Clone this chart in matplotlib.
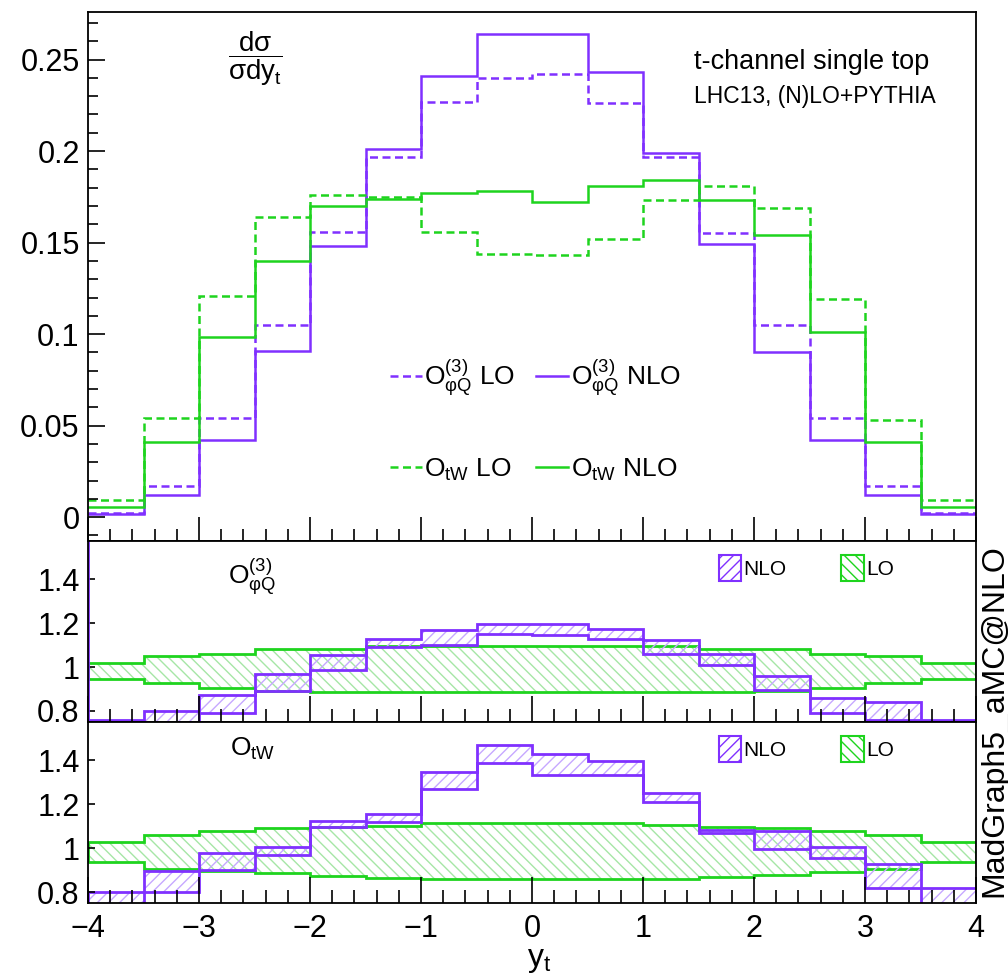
import numpy as np
import matplotlib
matplotlib.use('Agg')
import matplotlib.pyplot as plt
from matplotlib.lines import Line2D
from matplotlib.patches import Patch

plt.rcParams['font.family'] = ['Liberation Sans', 'DejaVu Sans']
plt.rcParams['mathtext.fontset'] = 'custom'
plt.rcParams['mathtext.rm'] = 'Liberation Sans'
plt.rcParams['mathtext.it'] = 'Liberation Sans:italic'
plt.rcParams['mathtext.bf'] = 'Liberation Sans:bold'
plt.rcParams['hatch.linewidth'] = 1.0

# bin edges in y_t
y_edges = [-4, -3.5, -3, -2.5, -2, -1.5, -1, -0.5, 0, 0.5, 1, 1.5, 2, 2.5, 3, 3.5, 4]

# normalised distributions (top panel)
phiQ_lo = [0.0025, 0.017, 0.054, 0.105, 0.156, 0.197, 0.227, 0.240, 0.242, 0.226,
           0.197, 0.155, 0.105, 0.054, 0.017, 0.0025]
phiQ_nlo = [0.0015, 0.012, 0.042, 0.091, 0.148, 0.201, 0.241, 0.264, 0.264, 0.243,
            0.199, 0.149, 0.090, 0.042, 0.012, 0.0015]
tw_lo = [0.0095, 0.054, 0.121, 0.164, 0.176, 0.175, 0.156, 0.144, 0.143, 0.152,
         0.173, 0.181, 0.169, 0.119, 0.053, 0.0095]
tw_nlo = [0.0056, 0.041, 0.0985, 0.140, 0.170, 0.174, 0.177, 0.178, 0.172, 0.181,
          0.184, 0.173, 0.154, 0.101, 0.041, 0.0056]

# scale bands, O_phiQ ratio panel
phiQ_lo_up = [1.018, 1.050, 1.061, 1.084, 1.084, 1.094, 1.094, 1.094, 1.094, 1.094,
              1.094, 1.084, 1.084, 1.061, 1.050, 1.018]
phiQ_lo_dn = [0.947, 0.927, 0.906, 0.890, 0.886, 0.886, 0.886, 0.886, 0.886, 0.886,
              0.886, 0.886, 0.891, 0.906, 0.927, 0.947]
phiQ_nlo_up = [0.760, 0.800, 0.874, 0.967, 1.053, 1.126, 1.167, 1.198, 1.198, 1.175,
               1.125, 1.061, 0.958, 0.860, 0.840, 0.761]
phiQ_nlo_dn = [0.70, 0.70, 0.790, 0.890, 0.989, 1.091, 1.102, 1.152, 1.145, 1.126,
               1.061, 1.008, 0.894, 0.792, 0.760, 0.70]

# scale bands, O_tW ratio panel
tw_lo_up = [1.030, 1.061, 1.080, 1.091, 1.094, 1.103, 1.114, 1.114, 1.114, 1.114,
            1.106, 1.098, 1.091, 1.080, 1.061, 1.027]
tw_lo_dn = [0.936, 0.906, 0.897, 0.886, 0.875, 0.863, 0.860, 0.860, 0.860, 0.860,
            0.860, 0.868, 0.878, 0.891, 0.906, 0.936]
tw_nlo_up = [0.798, 0.894, 0.977, 1.007, 1.124, 1.155, 1.346, 1.471, 1.430, 1.395,
             1.250, 1.083, 1.079, 1.007, 0.927, 0.820]
tw_nlo_dn = [0.70, 0.798, 0.901, 0.969, 1.094, 1.121, 1.269, 1.390, 1.334, 1.334,
             1.208, 1.071, 0.997, 0.957, 0.818, 0.70]

purple = '#8030ff'
green = '#1ed41e'
purple_h = '#c6a8ff'
green_h = '#a6e6a6'
dash = (0, (3.2, 1.8))
lab_phiQ = r'$\mathrm{O^{(3)}_{\varphi Q}}$'
lab_tw = r'$\mathrm{O_{tW}}$'

fig = plt.figure(figsize=(10.08, 9.8), dpi=100)
ax = fig.add_axes([0.0873, 0.448, 0.881, 0.5398])
ax1 = fig.add_axes([0.0873, 0.2633, 0.881, 0.1847])
ax2 = fig.add_axes([0.0873, 0.0786, 0.881, 0.1847])

# top panel
ax.stairs(phiQ_lo, y_edges, baseline=None, color=purple, lw=1.8, ls=dash)
ax.stairs(phiQ_nlo, y_edges, baseline=None, color=purple, lw=1.8)
ax.stairs(tw_lo, y_edges, baseline=None, color=green, lw=1.8, ls=dash)
ax.stairs(tw_nlo, y_edges, baseline=None, color=green, lw=1.8)
ax.set_xlim(-4, 4)
ax.set_ylim(-0.013, 0.276)
ax.set_yticks([0, 0.05, 0.1, 0.15, 0.2, 0.25])
ax.set_yticklabels(['0', '0.05', '0.1', '0.15', '0.2', '0.25'])
ax.set_yticks(np.arange(-0.01, 0.2701, 0.01), minor=True)
ax.tick_params(axis='y', which='major', length=12, width=1.2)
ax.tick_params(axis='y', which='minor', length=7, width=1.2)
ax.tick_params(axis='x', which='major', length=17, width=1.2, labelbottom=False)
ax.tick_params(axis='x', which='minor', length=8.5, width=1.2)

handles = [Line2D([], [], color=purple, lw=1.8, ls=dash),
           Line2D([], [], color=green, lw=1.8, ls=dash),
           Line2D([], [], color=purple, lw=1.8),
           Line2D([], [], color=green, lw=1.8)]
labels = [lab_phiQ + ' LO', lab_tw + ' LO', lab_phiQ + ' NLO', lab_tw + ' NLO']
ax.legend(handles, labels, ncol=2, loc='upper left', bbox_to_anchor=(0.34, 0.347),
          frameon=False, fontsize=19, handlelength=1.2, handletextpad=0.1,
          columnspacing=0.8, labelspacing=2.2, borderpad=0, borderaxespad=0)

ax.text(0.188, 0.912, r'$\mathrm{\dfrac{d\sigma}{\sigma dy_{t}}}$', transform=ax.transAxes,
        fontsize=20, ha='center', va='center')
ax.text(0.682, 0.905, 't-channel single top', transform=ax.transAxes, fontsize=19.5,
        ha='left', va='center')
ax.text(0.682, 0.84, 'LHC13, (N)LO+PYTHIA', transform=ax.transAxes, fontsize=16.5,
        ha='left', va='center')

# ratio panels
panels = [(ax1, lab_phiQ, 0.80, phiQ_nlo_up, phiQ_nlo_dn, phiQ_lo_up, phiQ_lo_dn),
          (ax2, lab_tw, 0.85, tw_nlo_up, tw_nlo_dn, tw_lo_up, tw_lo_dn)]
for a, lab, ly, nup, ndn, lup, ldn in panels:
    a.stairs(lup, y_edges, baseline=ldn, fill=True, facecolor='none',
             edgecolor=green_h, hatch='\\\\\\', lw=0)
    a.stairs(lup, y_edges, baseline=ldn, fill=False, edgecolor=green, lw=2.0)
    a.stairs(nup, y_edges, baseline=ndn, fill=True, facecolor='none',
             edgecolor=purple_h, hatch='///', lw=0)
    a.stairs(nup, y_edges, baseline=ndn, fill=False, edgecolor=purple, lw=2.0)
    a.set_xlim(-4, 4)
    a.set_ylim(0.75, 1.575)
    a.set_yticks([0.8, 1.0, 1.2, 1.4])
    a.set_yticklabels(['0.8', '1', '1.2', '1.4'])
    a.tick_params(axis='y', which='major', length=5, width=1.2)
    a.tick_params(axis='x', which='major', length=19, width=1.2)
    a.tick_params(axis='x', which='minor', length=9.5, width=1.2)
    a.text(0.185, ly, lab, transform=a.transAxes, fontsize=19, ha='center', va='center')
    ph = [Patch(facecolor='none', edgecolor=purple, hatch='///', lw=1.5),
          Patch(facecolor='none', edgecolor=green, hatch='\\\\\\', lw=1.5)]
    a.legend(ph, ['NLO', 'LO'], ncol=2, loc='center left', bbox_to_anchor=(0.71, 0.85),
             frameon=False, fontsize=15, handlelength=1.1, handleheight=1.5,
             handletextpad=0.1, columnspacing=2.6, borderpad=0, borderaxespad=0)

ax1.axvline(y_edges[0], color=purple, lw=2.0)
ax1.tick_params(axis='x', labelbottom=False)

for a in (ax, ax1, ax2):
    a.xaxis.set_major_locator(plt.MultipleLocator(1))
    a.xaxis.set_minor_locator(plt.MultipleLocator(0.2))
    a.tick_params(which='both', direction='in', top=False, right=False,
                  labelsize=22, pad=6)
    for s in a.spines.values():
        s.set_linewidth(1.3)

ax2.set_xticks([-4, -3, -2, -1, 0, 1, 2, 3, 4])
ax2.set_xticklabels(['\u22124', '\u22123', '\u22122', '\u22121', '0', '1', '2', '3', '4'])
ax2.tick_params(axis='x', pad=8)

fig.text(0.535, 0.02, r'$\mathrm{y_{t}}$', fontsize=23, ha='center', va='center')
fig.text(0.986, 0.265, 'MadGraph5_aMC@NLO', rotation=90, fontsize=23,
         ha='center', va='center')

fig.savefig('out.png', dpi=100)
